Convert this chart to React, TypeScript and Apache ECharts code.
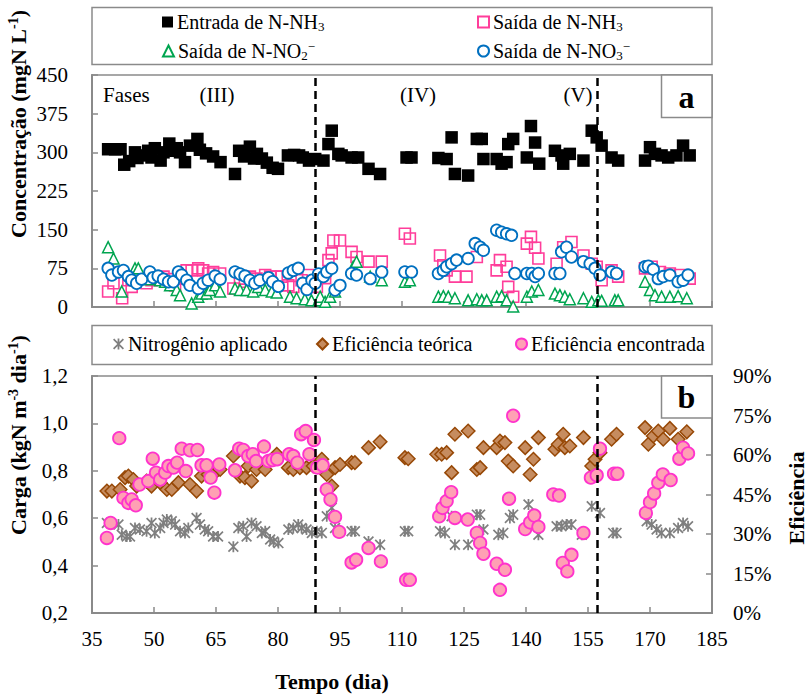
import React, { useEffect, useRef } from 'react';
import * as echarts from 'echarts';

const DAY0 = 35;
const FONT = '"Liberation Serif", "Times New Roman", serif';

// ---- Panel a: concentrations (mgN/L) ----
const entradaDays = [38.9, 40.6, 41.9, 42.8, 44.0, 45.4, 46.0, 47.4, 48.6, 49.4, 50.2, 51.6, 52.3, 53.7, 54.3, 55.5, 56.3, 57.5, 58.7, 60.5, 61.1, 62.6, 64.3, 66.1, 69.6, 70.6, 71.8, 73.2, 74.2, 74.9, 76.1, 77.3, 78.7, 80.0, 82.4, 83.9, 85.1, 86.0, 87.5, 89.0, 91.0, 92.2, 93.0, 94.6, 95.4, 97.8, 99.4, 101.9, 104.7, 111.1, 112.3, 118.8, 120.8, 122.0, 122.8, 126.0, 128.1, 129.3, 129.7, 132.9, 134.1, 135.3, 135.7, 136.9, 140.2, 141.2, 142.2, 143.2, 147.0, 148.6, 149.0, 150.6, 153.9, 155.9, 157.1, 158.3, 160.7, 162.3, 168.8, 170.0, 171.2, 172.8, 174.4, 176.4, 178.0, 179.6];
const entradaVals = [306, 306, 306, 276, 283, 300, 289, 294, 303, 290, 308, 284, 300, 317, 303, 308, 300, 281, 313, 326, 305, 298, 292, 281, 258, 303, 292, 311, 288, 297, 288, 280, 270, 268, 294, 295, 294, 290, 284, 287, 284, 316, 342, 297, 294, 290, 290, 268, 258, 290, 290, 289, 287, 329, 258, 255, 326, 326, 287, 287, 278, 281, 316, 326, 290, 351, 319, 278, 303, 294, 278, 297, 284, 342, 329, 313, 290, 284, 284, 310, 297, 294, 290, 294, 313, 294];

const nh3Days = [38.9, 40.2, 42.3, 43.8, 44.6, 46.2, 48.2, 49.4, 51.0, 52.3, 53.5, 55.1, 56.3, 57.9, 59.1, 60.7, 61.9, 63.1, 64.3, 66.0, 69.2, 70.8, 72.0, 73.2, 74.8, 76.9, 78.1, 79.7, 80.9, 82.5, 83.7, 85.7, 87.3, 89.4, 91.4, 92.2, 93.0, 93.4, 95.0, 97.8, 99.0, 101.9, 105.1, 110.7, 111.9, 119.2, 120.0, 120.8, 122.8, 125.6, 128.1, 132.9, 133.7, 135.3, 135.7, 136.9, 140.2, 141.2, 142.2, 143.0, 147.4, 149.0, 151.0, 153.9, 155.9, 157.1, 158.3, 160.7, 162.3, 168.8, 170.4, 172.4, 174.8, 177.3, 179.6];
const nh3Vals = [30, 46, 17, 52, 39, 55, 46, 52, 55, 59, 54, 42, 55, 71, 71, 75, 71, 65, 68, 65, 36, 49, 55, 59, 55, 62, 59, 59, 59, 42, 39, 52, 62, 39, 56, 91, 104, 129, 129, 107, 97, 88, 88, 142, 133, 100, 81, 71, 59, 59, 97, 71, 91, 78, 39, 20, 123, 136, 115, 94, 84, 116, 126, 100, 84, 78, 52, 71, 59, 75, 78, 68, 65, 62, 55];

const no2Days = [38.9, 40.2, 42.2, 45.4, 46.2, 47.7, 49.0, 51.5, 52.7, 53.9, 55.5, 56.3, 59.1, 60.7, 61.5, 62.7, 63.5, 64.8, 66.0, 69.6, 70.8, 72.4, 74.0, 75.2, 76.9, 78.5, 79.7, 82.9, 84.5, 86.5, 88.1, 89.8, 90.2, 91.4, 92.6, 93.8, 98.2, 99.0, 102.3, 105.1, 110.7, 111.9, 118.8, 120.0, 121.2, 122.8, 126.0, 128.1, 129.3, 130.5, 132.9, 134.1, 135.3, 136.9, 140.2, 141.4, 143.0, 147.0, 148.2, 149.4, 150.6, 153.9, 155.9, 157.5, 158.3, 161.5, 162.3, 168.8, 170.0, 171.2, 172.8, 174.8, 176.8, 178.9];
const no2Vals = [116, 94, 30, 75, 75, 56, 54, 52, 49, 42, 33, 23, 7, 20, 26, 26, 33, 42, 30, 36, 33, 33, 30, 39, 33, 30, 28, 20, 17, 15, 13, 13, 20, 10, 20, 30, 78, 88, 59, 52, 49, 52, 20, 21, 20, 17, 13, 15, 13, 13, 20, 21, 13, 1, 20, 30, 33, 26, 23, 20, 15, 17, 10, 13, 12, 13, 13, 49, 33, 23, 20, 20, 21, 17];

const no3Days = [38.9, 39.8, 41.4, 42.6, 43.8, 44.6, 45.8, 47.0, 49.0, 49.8, 51.0, 52.3, 53.5, 54.7, 55.9, 56.7, 57.9, 58.7, 60.7, 61.9, 63.1, 64.8, 66.0, 69.6, 70.8, 72.0, 73.2, 74.4, 75.6, 77.7, 78.7, 80.1, 82.5, 83.7, 84.9, 86.0, 87.0, 88.2, 89.0, 89.8, 91.0, 91.8, 93.0, 93.8, 95.0, 97.8, 99.0, 102.3, 105.1, 110.7, 112.3, 118.8, 120.0, 120.8, 122.0, 123.2, 126.0, 127.7, 128.9, 129.7, 132.9, 134.1, 135.3, 136.5, 137.3, 140.2, 141.4, 142.2, 143.0, 147.0, 148.2, 148.6, 149.8, 151.0, 153.9, 155.5, 156.7, 157.9, 160.7, 161.9, 168.8, 169.6, 170.8, 172.0, 173.2, 174.8, 176.8, 178.0, 179.2];
const no3Vals = [75, 62, 68, 71, 59, 52, 46, 54, 68, 57, 60, 54, 49, 49, 68, 62, 52, 42, 36, 46, 52, 60, 54, 68, 64, 60, 52, 46, 52, 57, 49, 40, 66, 71, 75, 46, 34, 52, 46, 64, 59, 68, 75, 33, 42, 65, 62, 55, 68, 68, 68, 65, 71, 78, 84, 91, 94, 123, 116, 110, 149, 145, 142, 139, 65, 65, 65, 59, 65, 65, 65, 107, 116, 97, 88, 84, 75, 62, 68, 65, 78, 79, 73, 55, 59, 62, 49, 52, 62];

// ---- Panel b: load (kgN m-3 d-1) and efficiencies (%) ----
const aplicDays = [38.6, 41.4, 42.2, 43.4, 44.2, 45.4, 46.6, 48.2, 49.4, 50.2, 51.5, 52.3, 53.1, 54.3, 55.1, 56.3, 57.5, 58.3, 60.3, 61.1, 62.3, 63.1, 64.3, 65.5, 69.2, 70.4, 71.6, 72.4, 73.6, 74.8, 76.1, 76.9, 78.1, 78.9, 80.1, 82.5, 83.7, 84.9, 85.7, 86.9, 88.2, 89.4, 90.6, 91.8, 93.0, 93.8, 97.8, 98.6, 101.9, 104.7, 110.7, 111.5, 119.2, 120.4, 122.0, 122.8, 126.0, 128.1, 128.9, 129.7, 133.3, 134.5, 136.1, 136.9, 140.6, 141.8, 143.0, 147.4, 148.6, 149.8, 151.0, 153.5, 155.9, 157.9, 161.1, 161.9, 169.2, 170.4, 171.6, 172.8, 174.8, 176.8, 178.0, 179.2];
const aplicVals = [0.58, 0.573, 0.53, 0.523, 0.523, 0.559, 0.552, 0.545, 0.58, 0.538, 0.559, 0.58, 0.594, 0.587, 0.573, 0.545, 0.538, 0.559, 0.601, 0.573, 0.552, 0.545, 0.523, 0.523, 0.48, 0.559, 0.566, 0.523, 0.58, 0.566, 0.538, 0.545, 0.51, 0.502, 0.495, 0.552, 0.559, 0.573, 0.559, 0.552, 0.538, 0.545, 0.538, 0.608, 0.644, 0.559, 0.545, 0.545, 0.502, 0.488, 0.545, 0.545, 0.545, 0.538, 0.608, 0.488, 0.488, 0.615, 0.615, 0.552, 0.53, 0.538, 0.601, 0.615, 0.658, 0.608, 0.53, 0.566, 0.566, 0.573, 0.573, 0.53, 0.65, 0.622, 0.538, 0.538, 0.587, 0.573, 0.552, 0.538, 0.538, 0.559, 0.58, 0.566];

const teorDays = [38.6, 39.8, 41.8, 43.0, 43.8, 45.0, 45.8, 48.2, 49.4, 51.5, 53.1, 54.3, 55.9, 58.7, 60.3, 61.5, 63.1, 64.3, 66.0, 69.2, 70.8, 72.0, 72.8, 73.6, 74.8, 76.9, 79.7, 82.5, 83.7, 85.3, 86.9, 88.5, 90.2, 90.6, 91.8, 93.0, 93.8, 95.0, 97.8, 98.6, 101.9, 104.7, 110.7, 111.5, 118.4, 119.6, 120.8, 122.0, 122.8, 126.0, 128.1, 128.9, 129.7, 132.9, 133.7, 134.9, 135.7, 136.9, 139.8, 141.0, 141.8, 143.0, 147.0, 147.8, 149.0, 149.4, 150.6, 153.9, 155.9, 156.7, 157.9, 160.7, 161.9, 168.8, 169.6, 170.8, 172.0, 173.2, 174.8, 176.8, 178.9];
const teorVals = [46.3, 46.3, 46.9, 51.4, 52.0, 50.7, 48.2, 50.1, 48.2, 49.5, 46.9, 46.9, 49.5, 48.8, 46.3, 52.0, 52.6, 52.6, 54.5, 59.6, 52.0, 51.4, 55.8, 50.1, 54.5, 54.5, 60.3, 55.2, 54.5, 55.2, 55.2, 55.8, 57.1, 58.4, 52.6, 48.2, 55.2, 56.4, 57.1, 57.1, 62.8, 65.0, 59.0, 58.6, 60.3, 60.3, 60.9, 53.3, 67.9, 69.1, 54.5, 55.2, 62.8, 62.8, 65.3, 64.7, 57.7, 55.8, 62.8, 52.6, 58.4, 66.6, 62.2, 64.1, 67.9, 62.8, 63.4, 66.6, 55.8, 58.4, 60.9, 66.0, 67.9, 70.4, 64.1, 67.2, 69.1, 66.0, 70.1, 66.0, 68.8];

const encDays = [38.6, 39.5, 41.6, 42.6, 43.8, 44.6, 45.6, 46.5, 48.6, 49.7, 50.5, 51.5, 52.7, 53.5, 54.7, 55.6, 56.7, 57.7, 58.7, 60.5, 61.5, 62.7, 63.7, 64.6, 65.8, 69.6, 70.6, 71.6, 72.8, 73.9, 74.7, 76.6, 77.7, 78.7, 79.8, 82.7, 83.7, 84.7, 85.6, 86.7, 87.6, 88.7, 89.5, 90.8, 91.8, 92.7, 93.8, 94.8, 97.8, 98.9, 101.9, 104.9, 111.0, 111.9, 119.0, 119.8, 120.8, 121.9, 122.8, 125.9, 128.1, 128.9, 129.7, 132.9, 133.7, 134.9, 135.9, 136.9, 139.8, 141.0, 142.0, 143.0, 146.6, 148.0, 148.9, 150.0, 151.0, 153.9, 155.7, 157.1, 157.9, 161.3, 162.1, 169.0, 170.0, 171.0, 172.0, 173.1, 175.0, 177.1, 178.0, 179.2];
const encVals = [28.5, 34.2, 66.4, 43.7, 41.8, 43.1, 40.9, 48.8, 50.1, 58.6, 53.3, 50.7, 53.3, 55.8, 55.2, 57.1, 62.4, 53.9, 61.8, 61.9, 56.1, 56.1, 51.4, 45.7, 56.4, 54.2, 62.4, 61.9, 59.6, 60.3, 57.7, 63.2, 57.7, 58.1, 58.4, 60.3, 59.6, 57.1, 67.9, 69.1, 60.3, 65.7, 55.2, 56.1, 46.9, 43.1, 36.5, 30.8, 19.2, 20.2, 24.7, 19.6, 12.6, 12.6, 36.7, 39.9, 42.5, 45.9, 36.1, 35.5, 30.4, 26.6, 22.5, 18.7, 8.8, 16.4, 43.4, 74.9, 31.9, 34.4, 37.0, 32.7, 45.0, 44.6, 19.0, 15.8, 22.1, 30.4, 51.4, 52.3, 62.4, 52.9, 52.9, 38.0, 42.1, 45.4, 49.5, 52.6, 50.5, 58.6, 62.8, 60.6];

const phaseBreaks = [89, 157.2];
const phaseLabels = ['(III)', '(IV)', '(V)'];
const concTicks = { min: 0, max: 450, interval: 75 };
const loadTicks = { min: 0.2, max: 1.2, interval: 0.2 };
const effTicks = { min: 0, max: 90, interval: 15 };
const dayTicks = { min: 35, max: 185, interval: 15 };

const NAMES = {
  ent: 'Entrada de N-NH3',
  nh3: 'Saída de N-NH3',
  no2: 'Saída de N-NO2-',
  no3: 'Saída de N-NO3-',
  apl: 'Nitrogênio aplicado',
  teo: 'Eficiência teórica',
  enc: 'Eficiência encontrada',
};
const RICH_LABEL: Record<string, string> = {
  [NAMES.ent]: 'Entrada de N-NH{sub|3}',
  [NAMES.nh3]: 'Saída de N-NH{sub|3}',
  [NAMES.no2]: 'Saída de N-NO{sub|2}{sup|−}',
  [NAMES.no3]: 'Saída de N-NO{sub|3}{sup|−}',
};

const STAR = 'path://M4.2 0 H5.8 V10 H4.2 Z M0 1.1 L1.1 0 L10 8.9 L8.9 10 Z M8.9 0 L10 1.1 L1.1 10 L0 8.9 Z';

function pairs(days: number[], vals: number[]) {
  return days.map((d, i) => [d - DAY0, vals[i]]);
}

const GRAY = '#8a8a8a';

export default function App() {
  const ref = useRef<HTMLDivElement>(null);
  useEffect(() => {
    if (!ref.current) return;
    const chart = echarts.init(ref.current, undefined, { renderer: 'svg' });

    const richSubSup = {
      sub: { fontFamily: FONT, fontSize: 13, color: '#000', padding: [9, 0, 0, 0] },
      sup: { fontFamily: FONT, fontSize: 13, color: '#000', padding: [0, 0, 9, 0] },
    };
    const mkLegend = (name: string, left: number, cy: number) => ({
      data: [name],
      left,
      top: cy - 11,
      padding: 0,
      itemWidth: 11,
      itemHeight: 11,
      itemGap: 0,
      formatter: (n: string) => RICH_LABEL[n] || n,
      textStyle: { fontFamily: FONT, fontSize: 20, color: '#000', padding: [0, 0, 0, -1], rich: richSubSup },
    });

    const axisBase = {
      axisLine: { show: true, lineStyle: { color: GRAY, width: 2 } },
      axisTick: { show: true, inside: true, length: 6, lineStyle: { color: GRAY, width: 1.5 } },
      splitLine: { show: false },
      axisLabel: { fontFamily: FONT, fontSize: 21, color: '#000' },
    };

    const dashLine = {
      silent: true,
      symbol: 'none',
      label: { show: false },
      lineStyle: { color: '#000', type: [8, 5], width: 2.5 },
      data: phaseBreaks.map((d) => ({ xAxis: d - DAY0 })),
    };

    const bold = { fontFamily: FONT, fontSize: 22, fontWeight: 'bold', fill: '#000' };
    const titleRich = {
      t: { fontFamily: FONT, fontSize: 22, fontWeight: 'bold', color: '#000' },
      s: { fontFamily: FONT, fontSize: 14, fontWeight: 'bold', color: '#000', padding: [0, 0, 10, 0] },
    };

    const phaseX = [217, 418, 578];

    chart.setOption({
      animation: false,
      backgroundColor: '#fff',
      grid: [
        { left: 92, top: 75, width: 620, height: 232, show: true, borderColor: GRAY, borderWidth: 1.5, containLabel: false },
        { left: 92, top: 376, width: 620, height: 237, show: true, borderColor: GRAY, borderWidth: 1.5, containLabel: false },
      ],
      xAxis: [
        {
          type: 'value', gridIndex: 0, min: 0, max: dayTicks.max - dayTicks.min, interval: dayTicks.interval,
          ...axisBase, axisLabel: { show: false },
        },
        {
          type: 'value', gridIndex: 1, min: 0, max: dayTicks.max - dayTicks.min, interval: dayTicks.interval,
          ...axisBase,
          axisLabel: { ...axisBase.axisLabel, margin: 15, formatter: (v: number) => String(v + DAY0) },
        },
      ],
      yAxis: [
        {
          type: 'value', gridIndex: 0, ...concTicks, ...axisBase,
          axisLabel: { ...axisBase.axisLabel, margin: 24 },
        },
        {
          type: 'value', gridIndex: 1, ...loadTicks, ...axisBase,
          axisLabel: { ...axisBase.axisLabel, margin: 24, formatter: (v: number) => v.toFixed(1).replace('.', ',') },
        },
        {
          type: 'value', gridIndex: 1, position: 'right', ...effTicks, ...axisBase,
          axisLabel: { ...axisBase.axisLabel, margin: 21, formatter: (v: number) => v + '%' },
        },
      ],
      legend: [
        mkLegend(NAMES.ent, 162, 23),
        mkLegend(NAMES.nh3, 477, 23),
        mkLegend(NAMES.no2, 162, 51),
        mkLegend(NAMES.no3, 477, 51),
        mkLegend(NAMES.apl, 113, 345),
        mkLegend(NAMES.teo, 316, 345),
        mkLegend(NAMES.enc, 515, 345),
      ],
      series: [
        {
          name: NAMES.ent, type: 'scatter', xAxisIndex: 0, yAxisIndex: 0,
          symbol: 'rect', symbolSize: 12.5, itemStyle: { color: '#000', opacity: 1 },
          data: pairs(entradaDays, entradaVals), markLine: dashLine,
        },
        {
          name: NAMES.nh3, type: 'scatter', xAxisIndex: 0, yAxisIndex: 0,
          symbol: 'rect', symbolSize: 11,
          itemStyle: { color: 'rgba(255,255,255,0)', borderColor: '#FF3D9A', borderWidth: 1.6, opacity: 1 },
          data: pairs(nh3Days, nh3Vals),
        },
        {
          name: NAMES.no2, type: 'scatter', xAxisIndex: 0, yAxisIndex: 0,
          symbol: 'triangle', symbolSize: 11,
          itemStyle: { color: '#fff', borderColor: '#00A550', borderWidth: 1.5, opacity: 1 },
          data: pairs(no2Days, no2Vals),
        },
        {
          name: NAMES.no3, type: 'scatter', xAxisIndex: 0, yAxisIndex: 0,
          symbol: 'circle', symbolSize: 11.5,
          itemStyle: { color: '#fff', borderColor: '#0070C0', borderWidth: 1.8, opacity: 1 },
          data: pairs(no3Days, no3Vals),
        },
        {
          name: NAMES.apl, type: 'scatter', xAxisIndex: 1, yAxisIndex: 1,
          symbol: STAR, symbolSize: 11, itemStyle: { color: '#7f7f7f', opacity: 1 },
          data: pairs(aplicDays, aplicVals), markLine: dashLine,
        },
        {
          name: NAMES.teo, type: 'scatter', xAxisIndex: 1, yAxisIndex: 2,
          symbol: 'diamond', symbolSize: 13.5,
          itemStyle: { color: '#C68C5F', borderColor: '#974806', borderWidth: 1.5, opacity: 1 },
          data: pairs(teorDays, teorVals),
        },
        {
          name: NAMES.enc, type: 'scatter', xAxisIndex: 1, yAxisIndex: 2,
          symbol: 'circle', symbolSize: 12.5,
          itemStyle: { color: '#FFA0B4', borderColor: '#FF33CC', borderWidth: 1.8, opacity: 1 },
          data: pairs(encDays, encVals),
        },
      ],
      graphic: [
        { type: 'rect', shape: { x: 92, y: 7.5, width: 620, height: 57 }, style: { fill: 'none', stroke: GRAY, lineWidth: 1.5 }, z: 0 },
        { type: 'rect', shape: { x: 92, y: 325.5, width: 620, height: 39 }, style: { fill: 'none', stroke: GRAY, lineWidth: 1.5 }, z: 0 },
        { type: 'rect', shape: { x: 661.5, y: 75, width: 50.5, height: 42.5 }, style: { fill: '#fff', stroke: GRAY, lineWidth: 1.5 }, z: 10 },
        { type: 'text', x: 686.5, y: 97, z: 11, style: { text: 'a', fontFamily: FONT, fontSize: 32, fontWeight: 'bold', fill: '#000', align: 'center', verticalAlign: 'middle' } },
        { type: 'rect', shape: { x: 661.5, y: 376, width: 50.5, height: 42 }, style: { fill: '#fff', stroke: GRAY, lineWidth: 1.5 }, z: 10 },
        { type: 'text', x: 686.5, y: 397, z: 11, style: { text: 'b', fontFamily: FONT, fontSize: 32, fontWeight: 'bold', fill: '#000', align: 'center', verticalAlign: 'middle' } },
        { type: 'text', x: 103, y: 95, style: { text: 'Fases', fontFamily: FONT, fontSize: 21, fill: '#000', align: 'left', verticalAlign: 'middle' } },
        ...phaseLabels.map((p, i) => ({
          type: 'text', x: phaseX[i], y: 95,
          style: { text: p, fontFamily: FONT, fontSize: 21, fill: '#000', align: 'center', verticalAlign: 'middle' },
        })),
        {
          type: 'text', x: 18, y: 124, rotation: Math.PI / 2,
          style: { text: '{t|Concentração (mgN L}{s|-1}{t|)}', rich: titleRich, align: 'center', verticalAlign: 'middle' },
        },
        {
          type: 'text', x: 18, y: 435, rotation: Math.PI / 2,
          style: { text: '{t|Carga (kgN m}{s|-3}{t| dia}{s|-1}{t|)}', rich: titleRich, align: 'center', verticalAlign: 'middle' },
        },
        {
          type: 'text', x: 796, y: 498, rotation: Math.PI / 2,
          style: { text: 'Eficiência', ...bold, align: 'center', verticalAlign: 'middle' },
        },
        {
          type: 'text', x: 332, y: 681,
          style: { text: 'Tempo (dia)', ...bold, align: 'center', verticalAlign: 'middle' },
        },
      ],
    });
    return () => chart.dispose();
  }, []);
  return <div ref={ref} style={{ position: 'absolute', left: 0, top: 0, width: 809, height: 696, background: '#fff' }} />;
}
